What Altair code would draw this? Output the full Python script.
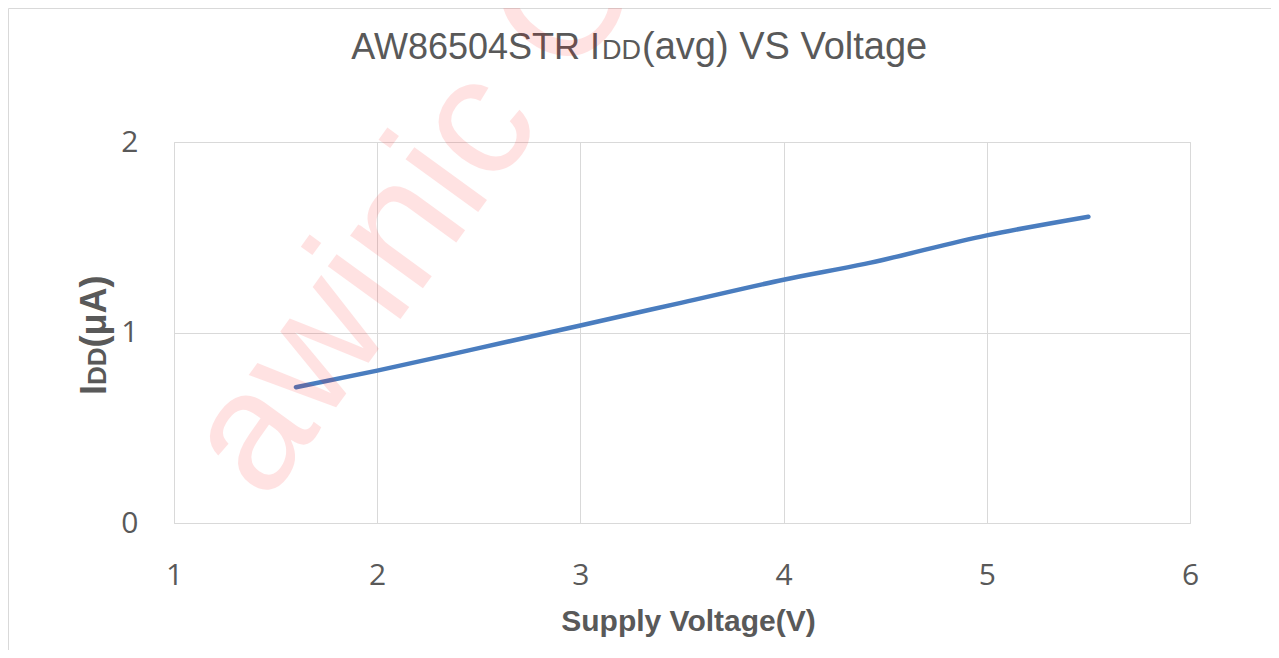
import altair as alt
import pandas as pd

# ---- data ----
voltage = [1.6, 2.0, 2.5, 3.0, 3.5, 4.0, 4.4, 5.0, 5.5]
idd = [0.713, 0.800, 0.918, 1.037, 1.157, 1.277, 1.360, 1.510, 1.608]
x_ticks = [1, 2, 3, 4, 5, 6]
y_ticks = [0, 1, 2]

title_main = "AW86504STR I"
title_sub = "DD"
title_rest = "(avg) VS Voltage"
ytitle_main = "I"
ytitle_sub = "DD"
ytitle_rest = "(μA)"
xtitle = "Supply Voltage(V)"
watermark = "awinic Confidential"

df = pd.DataFrame({"V": voltage, "I": idd})

W, H = 1016, 381
PL, PT, PR, PB = 166, 134, 81, 127
TEXT = "#595959"
GRID = "#d9d9d9"


def one():
    return pd.DataFrame({"k": [0]})


line = alt.Chart(df).mark_line(
    color="#4a7dbf", strokeWidth=4.5, interpolate="monotone", strokeCap="round"
).encode(
    x=alt.X(
        "V:Q",
        scale=alt.Scale(domain=[1, 6], nice=False, zero=False),
        axis=alt.Axis(
            values=x_ticks, labelExpr="format(datum.value, 'd')", title=None,
            grid=True, gridColor=GRID, gridWidth=1,
            domain=False, ticks=False, tickSize=0, labelPadding=61,
            labelBaseline="alphabetic", labelFlush=False,
            labelFont="Open Sans", labelFontSize=30, labelColor=TEXT,
        ),
    ),
    y=alt.Y(
        "I:Q",
        scale=alt.Scale(domain=[0, 2], nice=False),
        axis=alt.Axis(
            values=y_ticks, labelExpr="format(datum.value, 'd')", title=None,
            grid=True, gridColor=GRID, gridWidth=1,
            domain=False, ticks=False, tickSize=0, labelPadding=36,
            labelFlush=False,
            labelFont="Open Sans", labelFontSize=30, labelColor=TEXT,
        ),
    ),
)


def txt(s, x, y, size, align="left", bold=False, angle=0, color=TEXT, opacity=1.0):
    kw = dict(
        text=s, align=align, baseline="alphabetic", font="Liberation Sans",
        fontSize=size, fontWeight="bold" if bold else "normal", color=color,
    )
    if angle:
        kw["angle"] = angle
    if opacity < 1:
        kw["opacity"] = opacity
    return alt.Chart(one()).mark_text(**kw).encode(x=alt.value(x), y=alt.value(y))


title_layers = [
    txt(title_main, 426, -83.5, 36, align="right"),
    txt(title_sub, 428, -83.5, 27),
    txt(title_rest, 468, -83.5, 38),
]

ytitle_layers = [
    txt(ytitle_main, -68, 253, 36, bold=True, angle=270),
    txt(ytitle_sub, -68, 243, 26, bold=True, angle=270),
    txt(ytitle_rest, -68, 205.5, 36, bold=True, angle=270),
]

xtitle_layer = txt(xtitle, 514.5, 489, 30, align="center", bold=True)

border = [
    alt.Chart(one()).mark_rule(color=GRID, strokeWidth=1).encode(
        x=alt.value(-165.5), y=alt.value(-133.5), y2=alt.value(H + PB)
    ),
    alt.Chart(one()).mark_rule(color=GRID, strokeWidth=1).encode(
        x=alt.value(-165.5), x2=alt.value(W + PR), y=alt.value(-133.5)
    ),
]

wm = txt(watermark, 92, 362, 170, angle=306, color="#ff0000", opacity=0.11)

chart = alt.layer(
    *border, line, *title_layers, *ytitle_layers, xtitle_layer, wm
).properties(
    width=W, height=H,
    padding={"left": PL, "top": PT, "right": PR, "bottom": PB},
    autosize=alt.AutoSizeParams(type="none"),
    background="white",
).configure_view(stroke=GRID, strokeWidth=1)

chart.save("out.html", embed_options={"renderer": "svg", "actions": False})
